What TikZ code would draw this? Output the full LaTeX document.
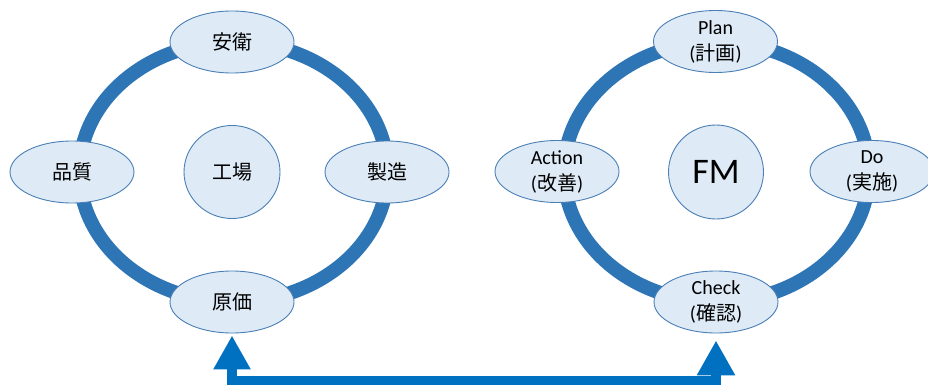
\documentclass[tikz,border=0pt]{standalone}
\usepackage{fontspec}
\setmainfont{Carlito}
\newfontfamily\jp{Noto Sans CJK JP}
\usetikzlibrary{shapes.geometric,arrows.meta}
\definecolor{ringc}{HTML}{2E75B6}
\definecolor{fillc}{HTML}{DEEBF7}
\definecolor{edgec}{HTML}{4A7EB5}
\definecolor{arrc}{HTML}{0070C0}
\begin{document}
\begin{tikzpicture}[x=1pt,y=-1pt,
  ring/.style={draw=ringc,line width=14pt},
  bub/.style={ellipse,draw=edgec,line width=0.9pt,fill=fillc,inner sep=0pt,
    minimum width=124pt,minimum height=62pt,align=center,
    font=\fontsize{20}{26}\selectfont},
  hub/.style={bub,minimum width=96pt,minimum height=93pt},
  conn/.style={draw=arrc,line width=10pt,
    {Triangle[width=35pt,length=34pt]}-{Triangle[width=36pt,length=35pt]},
    shorten <=2pt,shorten >=7pt}]
\clip (0,0) rectangle (928,385);
\useasboundingbox (0,0) rectangle (928,385);
% rings
\draw[ring] (233.5,172) ellipse [x radius=154pt,y radius=130pt];
\draw[ring] (716.5,172) ellipse [x radius=152.5pt,y radius=130pt];
% left cycle
\node[bub] (anei) at (232,42) {{\jp 安衛}};
\node[bub] (hinshitsu) at (72,172) {{\jp 品質}};
\node[bub] (seizo) at (387,172) {{\jp 製造}};
\node[bub] (genka) at (232,302) {{\jp 原価}};
\node[hub] (kojo) at (232,172) {{\jp 工場}};
% right cycle
\node[bub] (plan) at (715.5,41.5) {Plan\\({\jp 計画})};
\node[bub] (action) at (557,171.5) {Action\\({\jp 改善})};
\node[bub] (do) at (872,171.5) {Do\\({\jp 実施})};
\node[bub] (check) at (716,302) {Check\\({\jp 確認})};
\node[hub,minimum width=95pt,minimum height=94pt,font=\fontsize{36}{36}\selectfont] (fm) at (716,172) {FM};
% connector
\coordinate (bar) at (470,381);
\draw[conn] (genka.south) |- (bar) -| (check.south);
\end{tikzpicture}
\end{document}
